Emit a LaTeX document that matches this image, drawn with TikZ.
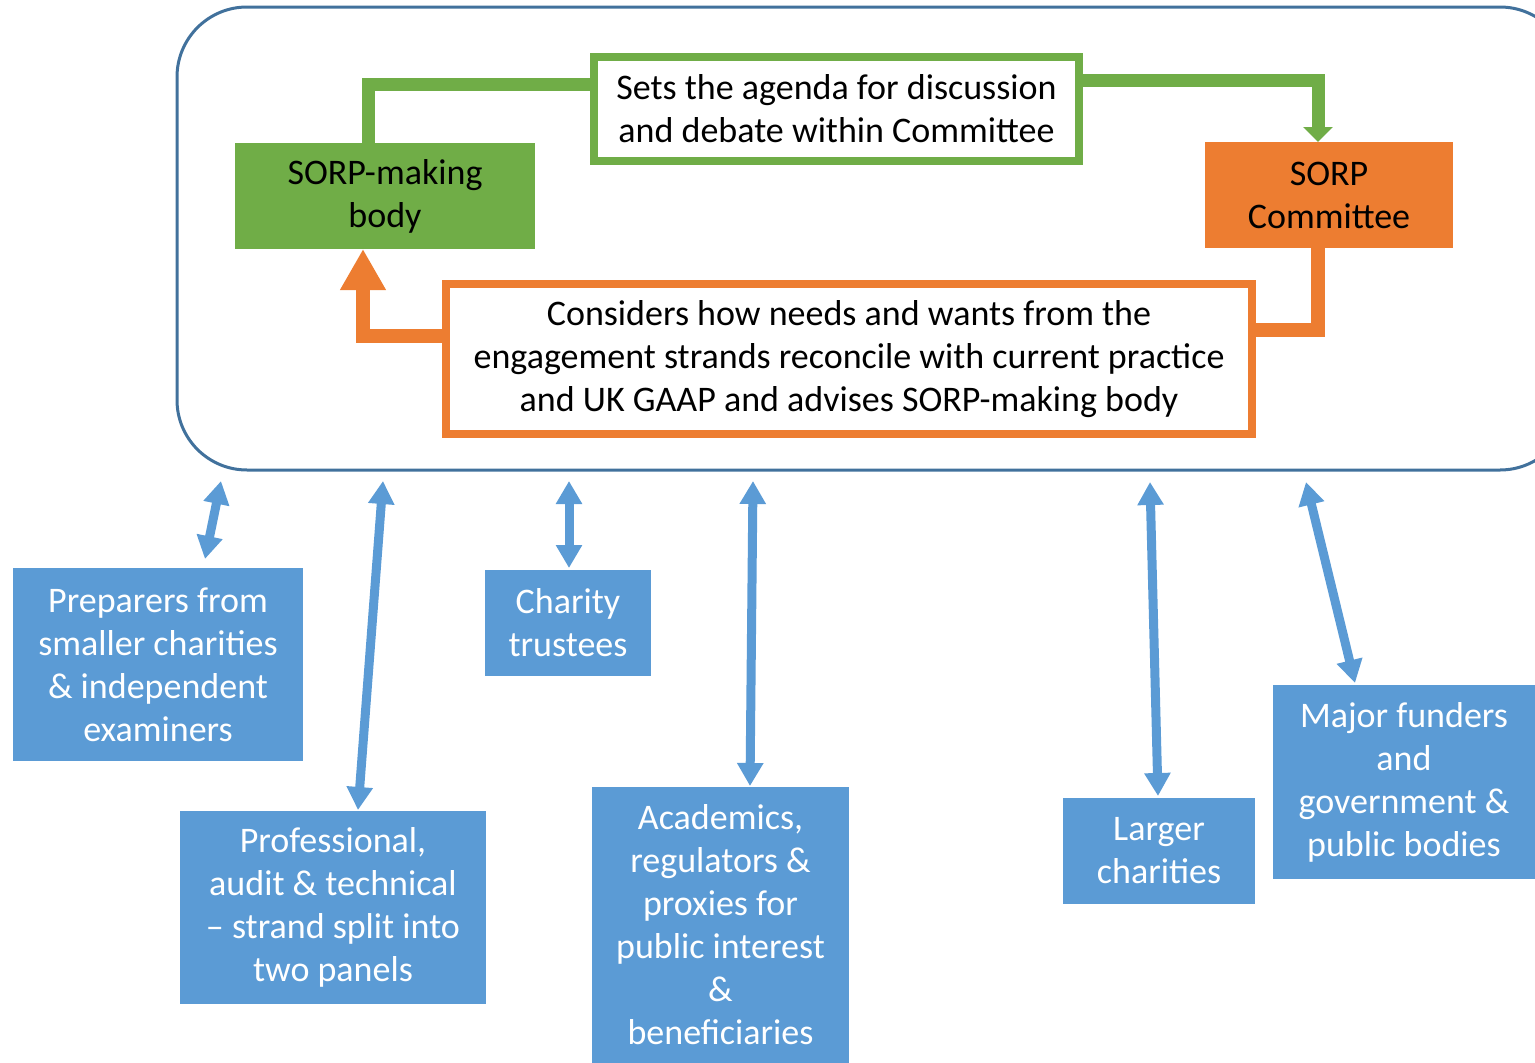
\documentclass[tikz,border=0pt]{standalone}
\usepackage{fontspec}
\setmainfont{Carlito}
\usetikzlibrary{arrows.meta}
\definecolor{cgreen}{HTML}{70AD47}
\definecolor{corange}{HTML}{ED7D31}
\definecolor{cblue}{HTML}{5B9BD5}
\definecolor{cframe}{HTML}{41719C}
\begin{document}
\begin{tikzpicture}[x=1pt,y=-1pt,
  base/.style={anchor=north west, inner sep=0pt, outer sep=0pt, align=center,
    font=\fontsize{36}{43}\selectfont},
  greenbox/.style={base, fill=cgreen, text=black},
  orangebox/.style={base, fill=corange, text=black},
  greenframe/.style={base, fill=white, draw=cgreen, line width=8pt, text=black},
  orangeframe/.style={base, fill=white, draw=corange, line width=8pt, text=black},
  bluebox/.style={base, fill=cblue, text=white},
  gline/.style={draw=cgreen, line width=13pt},
  oline/.style={draw=corange, line width=14pt},
  bline/.style={draw=cblue, line width=9pt, {Triangle[width=25pt,length=23pt]}-{Triangle[width=25pt,length=23pt]}},
]
\useasboundingbox (0,0) rectangle (1535,1063);

% outer frame
\draw[cframe, line width=3pt, rounded corners=70pt] (177,7) rectangle (1570,470);

% top nodes
\node[greenbox, minimum width=300pt, minimum height=106pt] (smb) at (235,143) {SORP-making\\body};
\node[orangebox, minimum width=248pt, minimum height=106pt] (sc) at (1205,142) {SORP\\Committee};
\node[greenframe, minimum width=485pt, minimum height=104pt] (agenda) at (594,57) {Sets the agenda for discussion\\and debate within Committee};
\node[orangeframe, minimum width=806pt, minimum height=150pt] (cons) at (446,284) {Considers how needs and wants from the\\engagement strands reconcile with current practice\\and UK GAAP and advises SORP-making body};

% connectors top
\draw[gline] ([xshift=-17pt]smb.north) |- ([yshift=25pt]agenda.west);
\draw[gline, -{Triangle[width=29pt,length=15pt]}] ([yshift=29pt]agenda.east) -| ([xshift=-11pt]sc.north);
\draw[oline] ([xshift=-11pt]sc.south) |- ([yshift=29pt]cons.east);
\draw[oline, -{Triangle[width=43pt,length=41pt]}] ([yshift=23pt]cons.west) -| ([xshift=-22pt]smb.south);

% blue boxes
\node[bluebox, minimum width=290pt, minimum height=193pt] (b1) at (13,568) {Preparers from\\smaller charities\\\& independent\\examiners};
\node[bluebox, minimum width=306pt, minimum height=193pt] (b2) at (180,811) {Professional,\\audit \& technical\\– strand split into\\two panels};
\node[bluebox, minimum width=166pt, minimum height=106pt] (b3) at (485,570) {Charity\\trustees};
\node[bluebox, minimum width=257pt, minimum height=276pt] (b4) at (592,787) {Academics,\\regulators \&\\proxies for\\public interest\\\&\\beneficiaries};
\node[bluebox, minimum width=192pt, minimum height=106pt] (b5) at (1063,798) {Larger\\charities};
\node[bluebox, minimum width=262pt, minimum height=194pt] (b6) at (1273,685) {Major funders\\and\\government \&\\public bodies};

% free ends near frame
\coordinate (t1) at (221,481);
\coordinate (t2) at (383,481);
\coordinate (t3) at (569,481);
\coordinate (t4) at (753,481);
\coordinate (t5) at (1150,482);
\coordinate (t6) at (1306,482);

\draw[bline] (t1) -- ([xshift=47pt,yshift=9pt]b1.north);
\draw[bline] (t2) -- ([xshift=25pt,yshift=1pt]b2.north);
\draw[bline] (t3) -- ([xshift=1pt,yshift=2pt]b3.north);
\draw[bline] (t4) -- ([xshift=29.5pt,yshift=1pt]b4.north);
\draw[bline] (t5) -- ([xshift=-1pt,yshift=2pt]b5.north);
\draw[bline] (t6) -- ([xshift=-49pt,yshift=2pt]b6.north);
\end{tikzpicture}
\end{document}
